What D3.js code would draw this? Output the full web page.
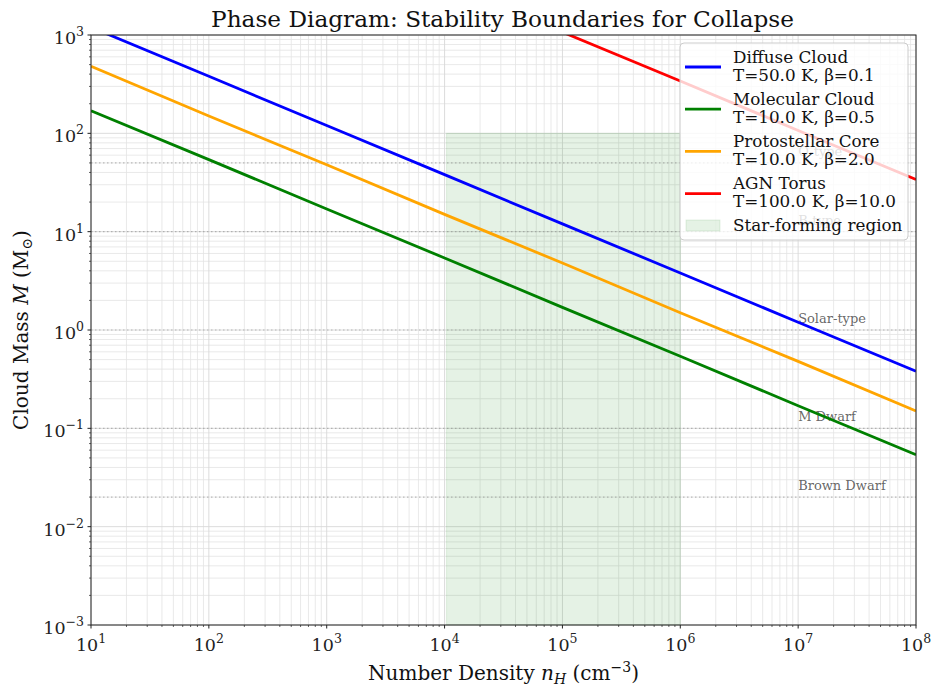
<!DOCTYPE html>
<html><head><meta charset="utf-8">
<script src="https://cdn.jsdelivr.net/npm/d3@7"></script>
<style>body{margin:0;background:#fff}svg{display:block}text{font-family:"DejaVu Serif",serif}</style>
</head><body><div id="chart"></div>
<script>
// ---- data ----
const densities = [1e1, 1e2, 1e3, 1e4, 1e5, 1e6, 1e7, 1e8];
const diffuseCloud = [1200, 380, 120, 38, 12, 3.8, 1.2, 0.38];
const molecularCloud = [170, 54, 17, 5.4, 1.7, 0.54, 0.17, 0.054];
const protostellarCore = [480, 150, 48, 15, 4.8, 1.5, 0.48, 0.15];
const agnTorus = [107000, 34000, 10700, 3400, 1070, 340, 107, 34];
const seriesNames = ["Diffuse Cloud", "Molecular Cloud", "Protostellar Core", "AGN Torus"];
const seriesSub = ["T=50.0 K, β=0.1", "T=10.0 K, β=0.5", "T=10.0 K, β=2.0", "T=100.0 K, β=10.0"];
const seriesColors = ["#0000ff", "#008000", "#ffa500", "#ff0000"];
const refMasses = [50, 10, 1, 0.1, 0.02];
const refLabels = ["O-type", "B-type", "Solar-type", "M Dwarf", "Brown Dwarf"];
const starRegionX = [1.04e4, 1e6];
const starRegionY = [1e-3, 1e2];
const xTickExps = [1, 2, 3, 4, 5, 6, 7, 8];
const yTickExps = [-3, -2, -1, 0, 1, 2, 3];

const W = 933, H = 687;
const m = {l: 91, r: 17, t: 35, b: 62};
const iw = W - m.l - m.r, ih = H - m.t - m.b;
const svg = d3.select("#chart").append("svg").attr("width", W).attr("height", H);
const x = d3.scaleLog().domain([1e1, 1e8]).range([m.l, m.l + iw]);
const y = d3.scaleLog().domain([1e-3, 1e3]).range([m.t + ih, m.t]);

svg.append("defs").append("clipPath").attr("id", "clip")
  .append("rect").attr("x", m.l).attr("y", m.t).attr("width", iw).attr("height", ih);

// minor values
const minorX = [], minorY = [];
for (let e = 1; e < 8; e++) for (let k = 2; k <= 9; k++) minorX.push(k * Math.pow(10, e));
for (let e = -3; e < 3; e++) for (let k = 2; k <= 9; k++) minorY.push(k * Math.pow(10, e));

// grid
const grid = svg.append("g");
minorX.forEach(v => grid.append("line").attr("x1", x(v)).attr("x2", x(v)).attr("y1", m.t).attr("y2", m.t + ih).attr("stroke", "#e3e3e3").attr("stroke-width", 0.8));
minorY.forEach(v => grid.append("line").attr("y1", y(v)).attr("y2", y(v)).attr("x1", m.l).attr("x2", m.l + iw).attr("stroke", "#e3e3e3").attr("stroke-width", 0.8));
xTickExps.forEach(e => grid.append("line").attr("x1", x(10 ** e)).attr("x2", x(10 ** e)).attr("y1", m.t).attr("y2", m.t + ih).attr("stroke", "#d8d8d8").attr("stroke-width", 0.9));
yTickExps.forEach(e => grid.append("line").attr("y1", y(10 ** e)).attr("y2", y(10 ** e)).attr("x1", m.l).attr("x2", m.l + iw).attr("stroke", "#d8d8d8").attr("stroke-width", 0.9));

// star-forming region
svg.append("rect").attr("x", x(starRegionX[0])).attr("width", x(starRegionX[1]) - x(starRegionX[0]))
  .attr("y", y(starRegionY[1])).attr("height", y(starRegionY[0]) - y(starRegionY[1]))
  .attr("fill", "green").attr("fill-opacity", 0.1).attr("stroke", "green").attr("stroke-opacity", 0.1);

// reference lines
const refG = svg.append("g");
refMasses.forEach((v, i) => {
  refG.append("line").attr("x1", m.l).attr("x2", m.l + iw).attr("y1", y(v)).attr("y2", y(v))
    .attr("stroke", "#808080").attr("stroke-opacity", 0.5).attr("stroke-width", 1.2).attr("stroke-dasharray", "1.5,2.5");
  refG.append("text").attr("x", x(1e7)).attr("y", y(v) - 7).attr("font-size", 13).attr("fill", "#555").attr("fill-opacity", 0.9).text(refLabels[i]);
});

// series lines
const allSeries = [diffuseCloud, molecularCloud, protostellarCore, agnTorus];
const line = d3.line().x(d => x(d[0])).y(d => y(d[1]));
const lg = svg.append("g").attr("clip-path", "url(#clip)");
allSeries.forEach((s, i) => {
  lg.append("path").datum(densities.map((d, j) => [d, s[j]])).attr("d", line)
    .attr("fill", "none").attr("stroke", seriesColors[i]).attr("stroke-width", 2.8);
});

// axes frame
svg.append("rect").attr("x", m.l).attr("y", m.t).attr("width", iw).attr("height", ih).attr("fill", "none").attr("stroke", "#222").attr("stroke-width", 1);

const supLabel = (sel, exp) => {
  sel.append("tspan").text("10");
  sel.append("tspan").attr("dy", -8).attr("font-size", 12.5).text(exp < 0 ? "−" + (-exp) : String(exp));
};
const axG = svg.append("g");
// x ticks
xTickExps.forEach(e => {
  const xv = x(10 ** e);
  axG.append("line").attr("x1", xv).attr("x2", xv).attr("y1", m.t + ih).attr("y2", m.t + ih + 3.5).attr("stroke", "#222");
  const t = axG.append("text").attr("x", xv).attr("y", m.t + ih + 26).attr("text-anchor", "middle").attr("font-size", 17.5).attr("fill", "#222");
  supLabel(t, e);
});
minorX.forEach(v => axG.append("line").attr("x1", x(v)).attr("x2", x(v)).attr("y1", m.t + ih).attr("y2", m.t + ih + 2).attr("stroke", "#222").attr("stroke-width", 0.7));
// y ticks
yTickExps.forEach(e => {
  const yv = y(10 ** e);
  axG.append("line").attr("x1", m.l - 3.5).attr("x2", m.l).attr("y1", yv).attr("y2", yv).attr("stroke", "#222");
  const t = axG.append("text").attr("x", m.l - 7).attr("y", yv + 9).attr("text-anchor", "end").attr("font-size", 17.5).attr("fill", "#222");
  supLabel(t, e);
});
minorY.forEach(v => axG.append("line").attr("x1", m.l - 2).attr("x2", m.l).attr("y1", y(v)).attr("y2", y(v)).attr("stroke", "#222").attr("stroke-width", 0.7));

// titles
svg.append("text").attr("x", m.l + iw / 2 - 1).attr("y", 27).attr("text-anchor", "middle").attr("font-size", 23.2).attr("fill", "#111")
  .text("Phase Diagram: Stability Boundaries for Collapse");
const xl = svg.append("text").attr("x", m.l + iw / 2).attr("y", 680).attr("text-anchor", "middle").attr("font-size", 20).attr("fill", "#111");
xl.append("tspan").text("Number Density ");
xl.append("tspan").attr("font-style", "italic").text("n");
xl.append("tspan").attr("font-style", "italic").attr("font-size", 14).attr("dy", 4).text("H");
xl.append("tspan").attr("dy", -4).text(" (cm");
xl.append("tspan").attr("font-size", 14).attr("dy", -8).text("−3");
xl.append("tspan").attr("dy", 8).text(")");
const yl = svg.append("text").attr("transform", `translate(28,${m.t + ih / 2}) rotate(-90)`).attr("text-anchor", "middle").attr("font-size", 20).attr("fill", "#111");
yl.append("tspan").text("Cloud Mass ");
yl.append("tspan").attr("font-style", "italic").text("M");
yl.append("tspan").text(" (M");
yl.append("tspan").attr("font-size", 14).attr("dy", 4).text("⊙");
yl.append("tspan").attr("dy", -4).text(")");

// legend
const leg = svg.append("g");
leg.append("rect").attr("x", 680).attr("y", 43).attr("width", 228).attr("height", 197).attr("rx", 4)
  .attr("fill", "#fff").attr("fill-opacity", 0.8).attr("stroke", "#ccc").attr("stroke-width", 1);
seriesNames.forEach((n, i) => {
  const cy = 67 + i * 42.2;
  leg.append("line").attr("x1", 685).attr("x2", 721).attr("y1", cy).attr("y2", cy).attr("stroke", seriesColors[i]).attr("stroke-width", 2.8);
  leg.append("text").attr("x", 733).attr("y", cy - 4.5).attr("font-size", 16.8).attr("fill", "#111").text(n);
  leg.append("text").attr("x", 733).attr("y", cy + 13.5).attr("font-size", 16.8).attr("fill", "#111").text(seriesSub[i]);
});
leg.append("rect").attr("x", 686).attr("y", 220).attr("width", 34).attr("height", 11)
  .attr("fill", "green").attr("fill-opacity", 0.1).attr("stroke", "green").attr("stroke-opacity", 0.1);
leg.append("text").attr("x", 733).attr("y", 231).attr("font-size", 16.8).attr("fill", "#111").text("Star-forming region");
</script></body></html>
